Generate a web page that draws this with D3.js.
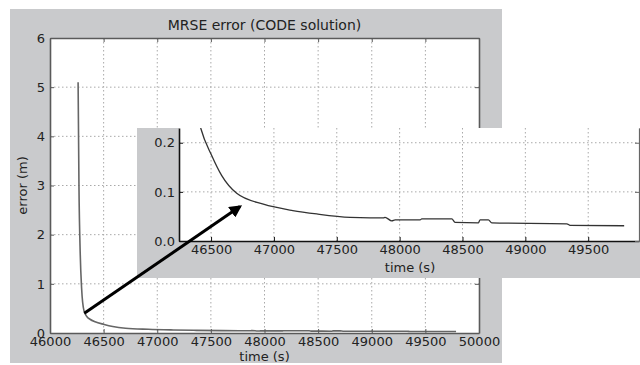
<!DOCTYPE html>
<html>
<head>
<meta charset="utf-8">
<script src="https://cdn.jsdelivr.net/npm/d3@7"></script>
<style>
  body { margin: 0; background: #fff; }
  text { font-family: "DejaVu Sans", sans-serif; fill: #222; }
</style>
</head>
<body>
<script>
// MRSE error over time
var times = [46262, 46270, 46282, 46295, 46317, 46345, 46373, 46420, 46505, 46585, 46704, 46916, 47150, 47341, 47606,
             47765, 47871, 47884, 47938, 47964, 48163, 48176, 48415, 48441, 48627, 48640, 48706, 48733,
             49330, 49356, 49786];
var errors = [5.1, 3.0, 1.6, 0.9, 0.45, 0.33, 0.28, 0.228, 0.174, 0.133, 0.097, 0.075, 0.062, 0.055, 0.048,
              0.047, 0.047, 0.048, 0.041, 0.043, 0.043, 0.045, 0.045, 0.038, 0.037, 0.043, 0.043, 0.037,
              0.035, 0.032, 0.031];

var mainXTicks = [46000, 46500, 47000, 47500, 48000, 48500, 49000, 49500, 50000];
var mainYTicks = [0, 1, 2, 3, 4, 5, 6];
var insetXTicks = [46500, 47000, 47500, 48000, 48500, 49000, 49500];
var insetYTicks = [0.0, 0.1, 0.2];

// arrow: from a point on the main curve to a point inside the inset
var arrowFrom = { t: 46320, e: 0.4 };
var arrowTo = { t: 46730, e: 0.070 };

var data = times.map(function (t, i) { return { t: t, e: errors[i] }; });

var svg = d3.select("body").append("svg").attr("width", 640).attr("height", 365);

var defs = svg.append("defs");
defs.append("marker")
  .attr("id", "head").attr("viewBox", "0 0 10 10")
  .attr("refX", 8).attr("refY", 5)
  .attr("markerWidth", 4.2).attr("markerHeight", 4.2)
  .attr("orient", "auto")
  .append("path").attr("d", "M0,0 L10,5 L0,10 z").attr("fill", "#000");

var gridColor = "#a9a9a9";

// ---------- main plot ----------
svg.append("rect").attr("x", 10).attr("y", 9).attr("width", 492).attr("height", 354).attr("fill", "#c9cacc");

var M = { left: 50, right: 479, top: 38, bottom: 333 };
var x = d3.scaleLinear().domain([46000, 50000]).range([M.left, M.right]);
var y = d3.scaleLinear().domain([0, 6]).range([M.bottom, M.top]);

svg.append("rect").attr("x", M.left).attr("y", M.top)
  .attr("width", M.right - M.left).attr("height", M.bottom - M.top).attr("fill", "#fff");

defs.append("clipPath").attr("id", "clipMain").append("rect")
  .attr("x", M.left).attr("y", M.top).attr("width", M.right - M.left).attr("height", M.bottom - M.top);

var gm = svg.append("g");
gm.selectAll(".gx").data(mainXTicks.slice(1, -1)).enter().append("line")
  .attr("x1", function (d) { return x(d); }).attr("x2", function (d) { return x(d); })
  .attr("y1", M.top).attr("y2", M.bottom)
  .attr("stroke", gridColor).attr("stroke-dasharray", "1.5,2.5");
gm.selectAll(".gy").data(mainYTicks.slice(1, -1)).enter().append("line")
  .attr("y1", function (d) { return y(d); }).attr("y2", function (d) { return y(d); })
  .attr("x1", M.left).attr("x2", M.right)
  .attr("stroke", gridColor).attr("stroke-dasharray", "1.5,2.5");

var line = d3.line().curve(d3.curveMonotoneX)
  .x(function (d) { return x(d.t); }).y(function (d) { return y(d.e); });
svg.append("path").datum(data).attr("d", line).attr("clip-path", "url(#clipMain)")
  .attr("fill", "none").attr("stroke", "#666").attr("stroke-width", 1.6);

// axes, ticks inside
var axB = svg.append("g").attr("transform", "translate(0," + M.bottom + ")")
  .call(d3.axisBottom(x).tickValues(mainXTicks).tickSizeInner(-4).tickSizeOuter(0).tickPadding(4).tickFormat(d3.format("d")));
var axT = svg.append("g").attr("transform", "translate(0," + M.top + ")")
  .call(d3.axisTop(x).tickValues(mainXTicks).tickSizeInner(-4).tickSizeOuter(0).tickFormat(""));
var axL = svg.append("g").attr("transform", "translate(" + M.left + ",0)")
  .call(d3.axisLeft(y).tickValues(mainYTicks).tickSizeInner(-4).tickSizeOuter(0).tickPadding(5).tickFormat(d3.format("d")));
var axR = svg.append("g").attr("transform", "translate(" + M.right + ",0)")
  .call(d3.axisRight(y).tickValues(mainYTicks).tickSizeInner(-4).tickSizeOuter(0).tickFormat(""));
[axB, axT, axL, axR].forEach(function (a) {
  a.select(".domain").attr("stroke", "#5a5a5a").attr("stroke-width", 1.6);
  a.selectAll(".tick line").attr("stroke", "#5a5a5a");
  a.selectAll("text").attr("font-size", 13).attr("fill", "#222");
});

svg.append("text").attr("x", (M.left + M.right) / 2).attr("y", 30).attr("text-anchor", "middle")
  .attr("font-size", 14).text("MRSE error (CODE solution)");
svg.append("text").attr("x", (M.left + M.right) / 2).attr("y", 361).attr("text-anchor", "middle")
  .attr("font-size", 13).text("time (s)");
svg.append("text").attr("transform", "translate(27," + (M.top + M.bottom) / 2 + ") rotate(-90)")
  .attr("text-anchor", "middle").attr("font-size", 13).text("error (m)");

// ---------- inset ----------
svg.append("rect").attr("x", 137).attr("y", 128).attr("width", 503).attr("height", 150).attr("fill", "#c9cacc");

var I = { left: 179, right: 639, top: 128, bottom: 241 };
var xi = d3.scaleLinear().domain([46245, 49904]).range([I.left, I.right]);
var yi = d3.scaleLinear().domain([0, 0.23]).range([I.bottom, I.top]);

svg.append("rect").attr("x", I.left).attr("y", I.top)
  .attr("width", I.right - I.left).attr("height", I.bottom - I.top).attr("fill", "#fff");
defs.append("clipPath").attr("id", "clipInset").append("rect")
  .attr("x", I.left).attr("y", I.top).attr("width", I.right - I.left).attr("height", I.bottom - I.top);

var gi = svg.append("g");
gi.selectAll(".gx").data(insetXTicks).enter().append("line")
  .attr("x1", function (d) { return xi(d); }).attr("x2", function (d) { return xi(d); })
  .attr("y1", I.top).attr("y2", I.bottom)
  .attr("stroke", gridColor).attr("stroke-dasharray", "1.5,2.5");
gi.selectAll(".gy").data(insetYTicks.slice(1)).enter().append("line")
  .attr("y1", function (d) { return yi(d); }).attr("y2", function (d) { return yi(d); })
  .attr("x1", I.left).attr("x2", I.right)
  .attr("stroke", gridColor).attr("stroke-dasharray", "1.5,2.5");

var lineI = d3.line().curve(d3.curveMonotoneX)
  .x(function (d) { return xi(d.t); }).y(function (d) { return yi(d.e); });
svg.append("path").datum(data).attr("d", lineI).attr("clip-path", "url(#clipInset)")
  .attr("fill", "none").attr("stroke", "#333").attr("stroke-width", 1.3);

var ib = svg.append("g").attr("transform", "translate(0," + I.bottom + ")")
  .call(d3.axisBottom(xi).tickValues(insetXTicks).tickSizeInner(-4).tickSizeOuter(0).tickPadding(4).tickFormat(d3.format("d")));
var il = svg.append("g").attr("transform", "translate(" + I.left + ",0)")
  .call(d3.axisLeft(yi).tickValues(insetYTicks).tickSizeInner(-4).tickSizeOuter(0).tickPadding(4).tickFormat(d3.format(".1f")));
var ir = svg.append("g").attr("transform", "translate(" + I.right + ",0)")
  .call(d3.axisRight(yi).tickValues(insetYTicks).tickSizeInner(-4).tickSizeOuter(0).tickFormat(""));
[ib, il].forEach(function (a) {
  a.select(".domain").attr("stroke", "#111").attr("stroke-width", 1.6);
  a.selectAll(".tick line").attr("stroke", "#111");
  a.selectAll("text").attr("font-size", 13).attr("fill", "#222");
});
ir.select(".domain").attr("stroke", "#666").attr("stroke-width", 1.2);
ir.selectAll(".tick line").attr("stroke", "#666");

svg.append("text").attr("x", 410).attr("y", 272).attr("text-anchor", "middle")
  .attr("font-size", 13).text("time (s)");

// ---------- arrow ----------
svg.append("line")
  .attr("x1", x(arrowFrom.t)).attr("y1", y(arrowFrom.e))
  .attr("x2", xi(arrowTo.t)).attr("y2", yi(arrowTo.e))
  .attr("stroke", "#000").attr("stroke-width", 3)
  .attr("marker-end", "url(#head)");
</script>
</body>
</html>
